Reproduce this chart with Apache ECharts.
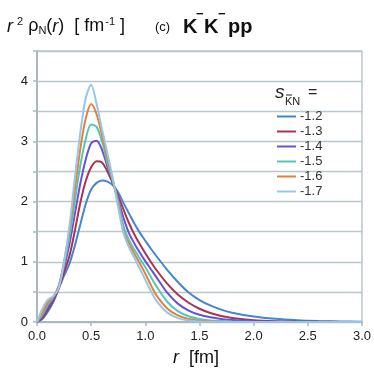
<!DOCTYPE html>
<html><head><meta charset="utf-8">
<script src="https://cdn.jsdelivr.net/npm/echarts@6/dist/echarts.min.js"></script>
<style>html,body{margin:0;padding:0;background:#fff}#c{width:374px;height:373px}</style>
</head><body><div id="c"></div>
<script>
const rValues = [0,0.05,0.1,0.15,0.2,0.25,0.3,0.35,0.4,0.45,0.5,0.55,0.6,0.65,0.7,0.75,0.8,0.85,0.9,0.95,1.0,1.05,1.1,1.2,1.3,1.4,1.5,1.6,1.7,1.8,2.0,2.2,2.4,2.6,2.8,3.0];
const seriesNames = ['-1.2','-1.3','-1.4','-1.5','-1.6','-1.7'];
const seriesColors = ['#4585d3','#a8354f','#6a50d6','#4ecbb6','#e5803c','#96c6ec'];
const s12 = [0,0.05,0.17,0.33,0.55,0.77,0.97,1.27,1.62,1.96,2.2,2.31,2.35,2.33,2.27,2.15,1.97,1.8,1.63,1.48,1.35,1.22,1.1,0.87,0.665,0.49,0.365,0.275,0.205,0.155,0.09,0.052,0.03,0.017,0.009,0.005];
const s13 = [0,0.07,0.21,0.36,0.56,0.82,1.1,1.52,1.98,2.34,2.57,2.67,2.65,2.5,2.3,2.09,1.86,1.64,1.45,1.29,1.14,1.0,0.87,0.64,0.455,0.32,0.22,0.15,0.1,0.068,0.03,0.014,0.007,0.003,0.002,0.001];
const s14 = [0,0.1,0.25,0.39,0.58,0.9,1.3,1.8,2.3,2.7,2.97,3.01,2.86,2.58,2.32,2.03,1.72,1.47,1.3,1.15,1.01,0.88,0.75,0.49,0.305,0.19,0.12,0.078,0.05,0.032,0.013,0.005,0.002,0.001,0,0];
const s15 = [0,0.12,0.29,0.41,0.6,0.96,1.42,2.02,2.6,3.04,3.28,3.24,3.0,2.64,2.34,2.0,1.58,1.36,1.2,1.05,0.91,0.75,0.6,0.34,0.18,0.095,0.05,0.027,0.015,0.008,0.002,0.001,0,0,0,0];
const s16 = [0,0.16,0.33,0.42,0.59,1.0,1.52,2.2,2.88,3.38,3.62,3.45,3.1,2.72,2.36,1.95,1.5,1.3,1.13,0.97,0.8,0.62,0.45,0.23,0.11,0.05,0.024,0.012,0.006,0.003,0.001,0,0,0,0,0];
const s17 = [0,0.22,0.37,0.43,0.56,1.0,1.6,2.4,3.15,3.72,3.94,3.62,3.2,2.8,2.38,1.9,1.47,1.24,1.06,0.88,0.7,0.52,0.36,0.16,0.065,0.026,0.01,0.004,0.002,0.001,0,0,0,0,0,0];
const allSeries = [s12,s13,s14,s15,s16,s17];
const yLabels = [0,1,2,3,4];

const FONT = 'Liberation Sans, Arial, sans-serif';
const chart = echarts.init(document.getElementById('c'), null, {renderer:'canvas'});
const grid = '#b9c7cc';
chart.setOption({
  animation:false,
  backgroundColor:'#fff',
  grid:{left:37,right:10,top:51,bottom:51,show:true,borderColor:grid,borderWidth:1.5,containLabel:false},
  xAxis:{type:'value',min:0,max:3,interval:0.5,
    axisLine:{lineStyle:{color:'#a9b9be',width:2}},
    axisTick:{show:true,length:4,lineStyle:{color:'#a9b9be',width:1.5}},
    axisLabel:{color:'#222',fontSize:13,fontFamily:FONT,margin:8,formatter:v=>v.toFixed(1)},
    splitLine:{show:false}},
  yAxis:{type:'value',min:0,max:4.5,interval:0.5,
    axisLine:{show:true,lineStyle:{color:'#a9b9be',width:2}},
    axisTick:{show:true,length:4,lineStyle:{color:'#a9b9be',width:1.5}},
    axisLabel:{color:'#222',fontSize:13,fontFamily:FONT,margin:9,formatter:v=>(yLabels.indexOf(v)>=0?String(v):'')},
    splitLine:{show:true,lineStyle:{color:grid,width:1.3}}},
  legend:{orient:'vertical',left:277,top:110,itemWidth:19,itemHeight:2,icon:'rect',itemGap:2,padding:0,
    textStyle:{fontSize:13,color:'#333',fontFamily:FONT,padding:[0,0,0,-1]},
    data:seriesNames},
  series: allSeries.map((arr,i)=>({
    name:seriesNames[i],type:'line',smooth:0.3,symbol:'none',
    lineStyle:{width:2,color:seriesColors[i]},itemStyle:{color:seriesColors[i]},
    data:rValues.map((r,j)=>[r,arr[j]])
  })),
  graphic:[
    {type:'text',left:7,top:16,style:{text:'{i|r}{sup| 2}{n| ρ}{sub|N}{n|(}{i|r}{n|)  [ fm}{sup|-1}{n| ]}',
      rich:{i:{fontStyle:'italic',fontSize:18,fontFamily:FONT,fill:'#111'},
            n:{fontSize:18,fontFamily:FONT,fill:'#111'},
            sup:{fontSize:11,fontFamily:FONT,fill:'#111',padding:[0,0,10,1]},
            sub:{fontSize:11,fontFamily:FONT,fill:'#111',padding:[9,0,0,0]}}}},
    {type:'text',left:155,top:21,style:{text:'(c)',font:'13px '+FONT,fill:'#111'}},
    {type:'text',left:183,top:17,style:{text:'K',font:'bold 20px '+FONT,fill:'#111'}},
    {type:'text',left:196,top:8,style:{text:'−',font:'bold 13px '+FONT,fill:'#111'}},
    {type:'text',left:204,top:17,style:{text:'K',font:'bold 20px '+FONT,fill:'#111'}},
    {type:'text',left:218,top:8,style:{text:'−',font:'bold 13px '+FONT,fill:'#111'}},
    {type:'text',left:228,top:17,style:{text:'pp',font:'bold 20px '+FONT,fill:'#111'}},
    {type:'text',left:275,top:83,style:{text:'s',font:'italic 19px '+FONT,fill:'#222'}},
    {type:'text',left:285,top:96,style:{text:'KN',font:'11px '+FONT,fill:'#222'}},
    {type:'line',shape:{x1:286,y1:95,x2:292,y2:95},style:{stroke:'#222',lineWidth:1}},
    {type:'text',left:308,top:85,style:{text:'=',font:'16px '+FONT,fill:'#222'}},
    {type:'text',left:173,top:349,style:{text:'{i|r}{n|  [fm]}',
      rich:{i:{fontStyle:'italic',fontSize:18,fontFamily:FONT,fill:'#111'},
            n:{fontSize:18,fontFamily:FONT,fill:'#111'}}}}
  ]
});
</script></body></html>
